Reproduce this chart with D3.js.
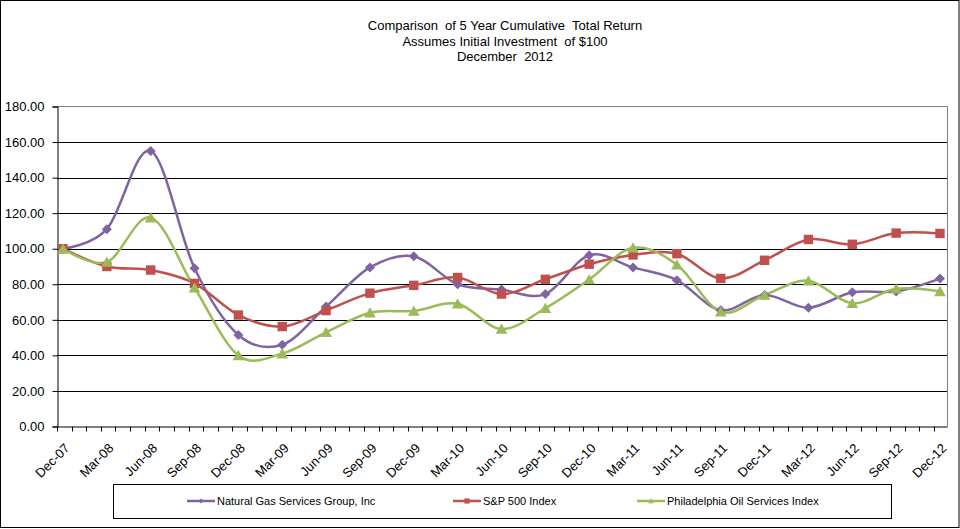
<!DOCTYPE html>
<html>
<head>
<meta charset="utf-8">
<script src="https://cdn.jsdelivr.net/npm/d3@7"></script>
<style>
  body { margin: 0; background: #fff; }
  text { font-family: "Liberation Sans", Arial, sans-serif; fill: #000; }
</style>
</head>
<body>
<svg id="chart" width="960" height="529"></svg>
<script>
// quarter end labels
const quarters = ["Dec-07", "Mar-08", "Jun-08", "Sep-08", "Dec-08", "Mar-09", "Jun-09", "Sep-09",
    "Dec-09", "Mar-10", "Jun-10", "Sep-10", "Dec-10", "Mar-11", "Jun-11", "Sep-11",
    "Dec-11", "Mar-12", "Jun-12", "Sep-12", "Dec-12"]

const ngsValues = [100, 111, 155, 89, 51.5, 46, 67.5, 89.5, 95.7, 80, 77, 74.5, 96.3,
    89.5, 82.3, 65.4, 74, 66.8, 75.5, 76, 83.2]
const spValues = [100, 90, 88, 80.5, 62.7, 56.2, 65.2, 75, 79.4, 83.8, 74.5, 82.8, 91.3,
    96.5, 97.2, 83.3, 93.5, 105.2, 102.5, 108.8, 108.6]
const osxValues = [100, 92.5, 117.5, 78, 40, 41, 53, 64, 65, 69, 54.8, 66.5, 82.7,
    100.5, 91, 64.5, 74, 82, 69.3, 77.5, 76]

const yTicks = [0, 20, 40, 60, 80, 100, 120, 140, 160, 180]

const titleLines = ["Comparison  of 5 Year Cumulative  Total Return",
    "Assumes Initial Investment  of $100", "December  2012"]

const series = [
    {name: "Natural Gas Services Group, Inc", values: ngsValues, color: "#8064A2", marker: "diamond"},
    {name: "S&P 500 Index", values: spValues, color: "#C0504D", marker: "square"},
    {name: "Philadelphia Oil Services Index", values: osxValues, color: "#9BBB59", marker: "triangle"}
]

const svg = d3.select("#chart")
const plotLeft = 57, plotRight = 947, plotTop = 106.5, plotBottom = 426.5

// outer frame
svg.append("rect")
    .attr("x", 0.5).attr("y", 0.5)
    .attr("width", 958.5).attr("height", 527)
    .attr("fill", "#fff").attr("stroke", "#000")

svg.selectAll(".title")
    .data(titleLines)
    .enter().append("text")
    .attr("x", 505)
    .attr("y", (d, i) => 30 + i * 15.5)
    .attr("text-anchor", "middle")
    .style("font-size", "13px")
    .style("white-space", "pre")
    .text(d => d)

let x = d3.scalePoint()
    .domain(quarters)
    .range([63, 940])

// month scale, only for the small ticks on the x axis
let xMonth = d3.scaleLinear().domain([0, 60]).range([63, 940])

let y = d3.scaleLinear()
    .domain([0, 180])
    .range([plotBottom, plotTop])

// grid
svg.append("g").selectAll("line")
    .data(yTicks.filter(d => d > 0 && d < 180))
    .enter().append("line")
    .attr("x1", plotLeft).attr("x2", plotRight)
    .attr("y1", d => Math.round(y(d)) + 0.5).attr("y2", d => Math.round(y(d)) + 0.5)
    .attr("stroke", "#000")

// plot border top / right
svg.append("path")
    .attr("d", `M${plotLeft},${plotTop}H${plotRight + 0.5}V${plotBottom}`)
    .attr("fill", "none").attr("stroke", "#808080")

// y axis
let yAxis = d3.axisLeft(y)
    .tickValues(yTicks)
    .tickSize(5)
    .tickPadding(8)
    .tickFormat(d3.format(".2f"))
let gy = svg.append("g")
    .attr("transform", `translate(${plotLeft + 0.5},0)`)
    .call(yAxis)
gy.select(".domain").attr("stroke", "#000")
gy.selectAll("line").attr("stroke", "#000")
gy.selectAll("text").style("font-size", "13px").style("font-family", "Liberation Sans, Arial, sans-serif")

// x axis
svg.append("line")
    .attr("x1", plotLeft).attr("x2", plotRight + 0.5)
    .attr("y1", plotBottom + 0.5).attr("y2", plotBottom + 0.5)
    .attr("stroke", "#000")

let minor = d3.range(0, 61).map(m => xMonth(m - 0.41)).filter(v => v < plotRight)
svg.append("g").selectAll("line")
    .data(minor)
    .enter().append("line")
    .attr("x1", d => Math.round(d) + 0.5).attr("x2", d => Math.round(d) + 0.5)
    .attr("y1", plotBottom).attr("y2", plotBottom + 5)
    .attr("stroke", "#000")

svg.append("g").selectAll("text")
    .data(quarters)
    .enter().append("text")
    .attr("transform", d => `translate(${x(d) + 1},${plotBottom + 16}) rotate(-45)`)
    .attr("text-anchor", "end")
    .attr("dy", "0.7em")
    .style("font-size", "13px")
    .text(d => d)

function markerPath(type, s) {
    if (type == "diamond") return `M0,${-s}L${s},0L0,${s}L${-s},0Z`
    if (type == "square") return `M${-s},${-s}H${s}V${s}H${-s}Z`
    return `M0,${-s * 1.05}L${s * 1.1},${s * 0.9}L${-s * 1.1},${s * 0.9}Z`
}

let line = d3.line()
    .x((d, i) => x(quarters[i]))
    .y(d => y(d))
    .curve(d3.curveCardinal.tension(0))

series.forEach(s => {
    svg.append("path")
        .attr("fill", "none")
        .attr("stroke", s.color)
        .attr("stroke-width", 2.5)
        .attr("d", line(s.values))
})

series.forEach(s => {
    let size = s.marker == "diamond" ? 5 : (s.marker == "square" ? 4.7 : 5.3)
    svg.append("g").selectAll("path")
        .data(s.values)
        .enter().append("path")
        .attr("transform", (d, i) => `translate(${x(quarters[i])},${y(d)})`)
        .attr("d", markerPath(s.marker, size))
        .attr("fill", s.color)
})

// legend
svg.append("rect")
    .attr("x", 113.5).attr("y", 484.5)
    .attr("width", 778).attr("height", 34)
    .attr("fill", "#fff").attr("stroke", "#000")

let legendX = [187, 453, 637]
series.forEach((s, i) => {
    let g = svg.append("g").attr("transform", `translate(${legendX[i]},501)`)
    g.append("line")
        .attr("x1", 0).attr("x2", 28)
        .attr("stroke", s.color).attr("stroke-width", 2.5)
    g.append("path")
        .attr("transform", "translate(14,0)")
        .attr("d", markerPath(s.marker, 2.6))
        .attr("fill", s.color)
    g.append("text")
        .attr("x", 30)
        .attr("dy", "0.35em")
        .style("font-size", "11px")
        .text(s.name)
})
</script>
</body>
</html>
